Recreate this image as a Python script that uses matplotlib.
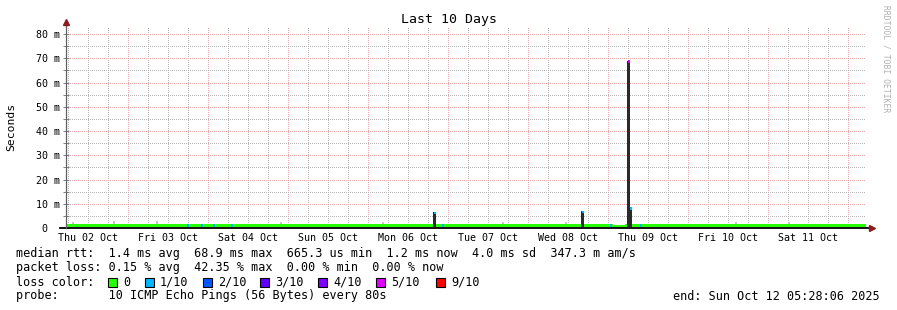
import matplotlib
matplotlib.use('Agg')
import matplotlib.pyplot as plt
from matplotlib.patches import Rectangle
from matplotlib.ticker import FixedLocator, MultipleLocator, FuncFormatter
from matplotlib.transforms import blended_transform_factory
import datetime as dt

# ---------------- data ----------------
end_time = dt.datetime(2025, 10, 12, 5, 28, 6)
span_days = 10

# median line segments (hours from start, ms)
seg_start_h = [0.3, 164.1, 167.7]
seg_end_h = [164.1, 167.7, 240.0]
seg_median_ms = [1.4, 0.9, 1.4]

# single steps with 1/10 loss on the baseline
loss_mark_h = [36.6, 40.8, 44.4, 49.8, 113.1, 163.5, 172.5]
loss_mark_idx = [1, 1, 1, 1, 1, 1, 1]

# latency spikes: smoke top, median value and loss level
spike_h = [110.5, 154.8, 168.6, 169.3]
spike_top_ms = [6.5, 7.1, 68.9, 7.6]
spike_median_ms = [6.3, 6.6, 68.6, 8.0]
spike_loss_idx = [1, 1, 5, 1]

# faint smoke specks above the baseline
smoke_h = [2.1, 14.4, 27.3, 64.5, 95.0, 131.0, 150.0, 201.0, 217.0]
smoke_top_ms = [2.6, 2.9, 3.0, 2.6, 2.5, 2.4, 2.5, 2.4, 2.4]

loss_labels = ['0', '1/10', '2/10', '3/10', '4/10', '5/10', '9/10']
loss_colors = ['#26ff00', '#00b8ff', '#0059ff', '#5e00ff', '#7e00ff', '#dd00ff', '#ff0000']

y_major = [0, 10, 20, 30, 40, 50, 60, 70, 80]
y_top = 83.3

legend_lines = [
    "median rtt:  1.4 ms avg  68.9 ms max  665.3 us min  1.2 ms now  4.0 ms sd  347.3 m am/s",
    "packet loss: 0.15 % avg  42.35 % max  0.00 % min  0.00 % now",
]
probe_text = "probe:       10 ICMP Echo Pings (56 Bytes) every 80s"
end_text = "end: Sun Oct 12 05:28:06 2025"
title = "Last 10 Days"

# ---------------- figure ----------------
W, H = 897, 310
fig = plt.figure(figsize=(W / 100, H / 100), dpi=100)
fig.patch.set_facecolor('white')
MONO = 'DejaVu Sans Mono'


def fx(px):
    return px / W


def fy(py):
    return 1 - py / H


ax = fig.add_axes([fx(66), fy(228), 800 / W, 202 / H])
ax.set_facecolor('white')

start_time = end_time - dt.timedelta(days=span_days)
total_h = span_days * 24.0


def hours(t):
    return (t - start_time).total_seconds() / 3600.0


midnights = [hours(dt.datetime(2025, 10, d)) for d in range(3, 13)]
sixh = []
t = dt.datetime(2025, 10, 2, 6)
while t < end_time:
    sixh.append(hours(t))
    t += dt.timedelta(hours=6)
noons = [(dt.datetime(2025, 10, d, 12), dt.datetime(2025, 10, d, 12).strftime('%a %d %b'))
         for d in range(2, 12)]

ax.set_xlim(0, total_h)
ax.set_ylim(0, y_top)

ax.xaxis.set_major_locator(FixedLocator(midnights))
ax.xaxis.set_minor_locator(FixedLocator(sixh))
ax.yaxis.set_major_locator(FixedLocator(y_major))
ax.yaxis.set_minor_locator(MultipleLocator(5))

ax.grid(which='minor', color='#b4b4b4', linestyle=(0, (1, 2)), linewidth=0.72,
        antialiased=False)
ax.grid(which='major', color='#eaa6a6', linestyle=(0, (1, 2)), linewidth=0.72,
        antialiased=False)
ax.set_axisbelow(True)

ax.tick_params(axis='x', which='both', length=0, labelbottom=False)
ax.tick_params(axis='y', which='both', direction='inout', length=4, width=0.7,
               color='#808080', labelsize=7.2, pad=2)
ax.yaxis.set_major_formatter(FuncFormatter(lambda v, p: '0  ' if v == 0 else f'{v:g} m'))
for lab in ax.get_yticklabels():
    lab.set_fontfamily(MONO)

trans = blended_transform_factory(ax.transData, ax.transAxes)
for tt, lab in noons:
    ax.text(hours(tt), -0.05, lab, transform=trans, ha='center', va='center',
            fontsize=7.2, family=MONO, color='black', clip_on=False)

for s in ['top', 'right', 'bottom', 'left']:
    ax.spines[s].set_visible(False)

# axis lines with arrows
ax.plot([-6 / 800, 1 + 3 / 800], [0, 0], transform=ax.transAxes, color='black',
        lw=1.3, clip_on=False, zorder=6)
ax.plot([0, 0], [0, 1.0], transform=ax.transAxes, color='#606060',
        lw=0.9, clip_on=False, zorder=6)
ax.plot([1 + 6 / 800], [0], transform=ax.transAxes, marker='>', color='#8c1c1c',
        markersize=4.5, clip_on=False, zorder=7)
ax.plot([0], [1 + 4 / 202], transform=ax.transAxes, marker='^', color='#8c1c1c',
        markersize=4.5, clip_on=False, zorder=7)

# smoke specks
for h, top in zip(smoke_h, smoke_top_ms):
    ax.bar(h, top - 1.0, bottom=1.0, width=0.6, color='#c4c4c4', linewidth=0, zorder=2)

# median line band
for a, b, m in zip(seg_start_h, seg_end_h, seg_median_ms):
    ax.fill_between([a, b], m - 0.95, m + 0.3, color=loss_colors[0], linewidth=0, zorder=3)

for h, li in zip(loss_mark_h, loss_mark_idx):
    ax.bar(h, 1.25, bottom=0.45, width=0.65, color=loss_colors[li], linewidth=0, zorder=4)

# spikes
for h, top, med, li in zip(spike_h, spike_top_ms, spike_median_ms, spike_loss_idx):
    ax.bar(h, top - 0.4, bottom=0.4, width=0.9, color='#2a2a2a', linewidth=0, zorder=4)
    ax.bar(h + 0.15, 1.0, bottom=med - 0.5, width=0.6, color=loss_colors[li],
           linewidth=0, zorder=5)

# ---------------- texts ----------------
fig.text(0.5, fy(19), title, ha='center', va='center', fontsize=9.5, family=MONO)
fig.text(fx(11), fy(127), 'Seconds', rotation=90, ha='center', va='center',
         fontsize=8.2, family=MONO)
fig.text(fx(886), fy(5), 'RRDTOOL / TOBI OETIKER', rotation=270, ha='center', va='top',
         fontsize=5.8, family=MONO, color='#b0b0b0')

line_y = [254, 268, 282, 296]
for txt, y in zip(legend_lines, line_y[:2]):
    fig.text(fx(16), fy(y), txt, ha='left', va='center', fontsize=8.5, family=MONO)

fig.text(fx(16), fy(line_y[2]), 'loss color:', ha='left', va='center', fontsize=8.5,
         family=MONO)
sq_x = [108, 145, 203, 260, 318, 376, 436]
for x, lab, col in zip(sq_x, loss_labels, loss_colors):
    fig.patches.append(Rectangle((fx(x), fy(line_y[2] + 4.5)), 9 / W, 9 / H,
                                 transform=fig.transFigure, facecolor=col,
                                 edgecolor='black', linewidth=0.8))
    fig.text(fx(x + 15), fy(line_y[2]), lab, ha='left', va='center', fontsize=8.5,
             family=MONO)

fig.text(fx(16), fy(line_y[3]), probe_text, ha='left', va='center', fontsize=8.5,
         family=MONO)
fig.text(fx(880), fy(line_y[3]), end_text, ha='right', va='center', fontsize=8.5,
         family=MONO)

fig.savefig('out.png', dpi=100, facecolor='white')
